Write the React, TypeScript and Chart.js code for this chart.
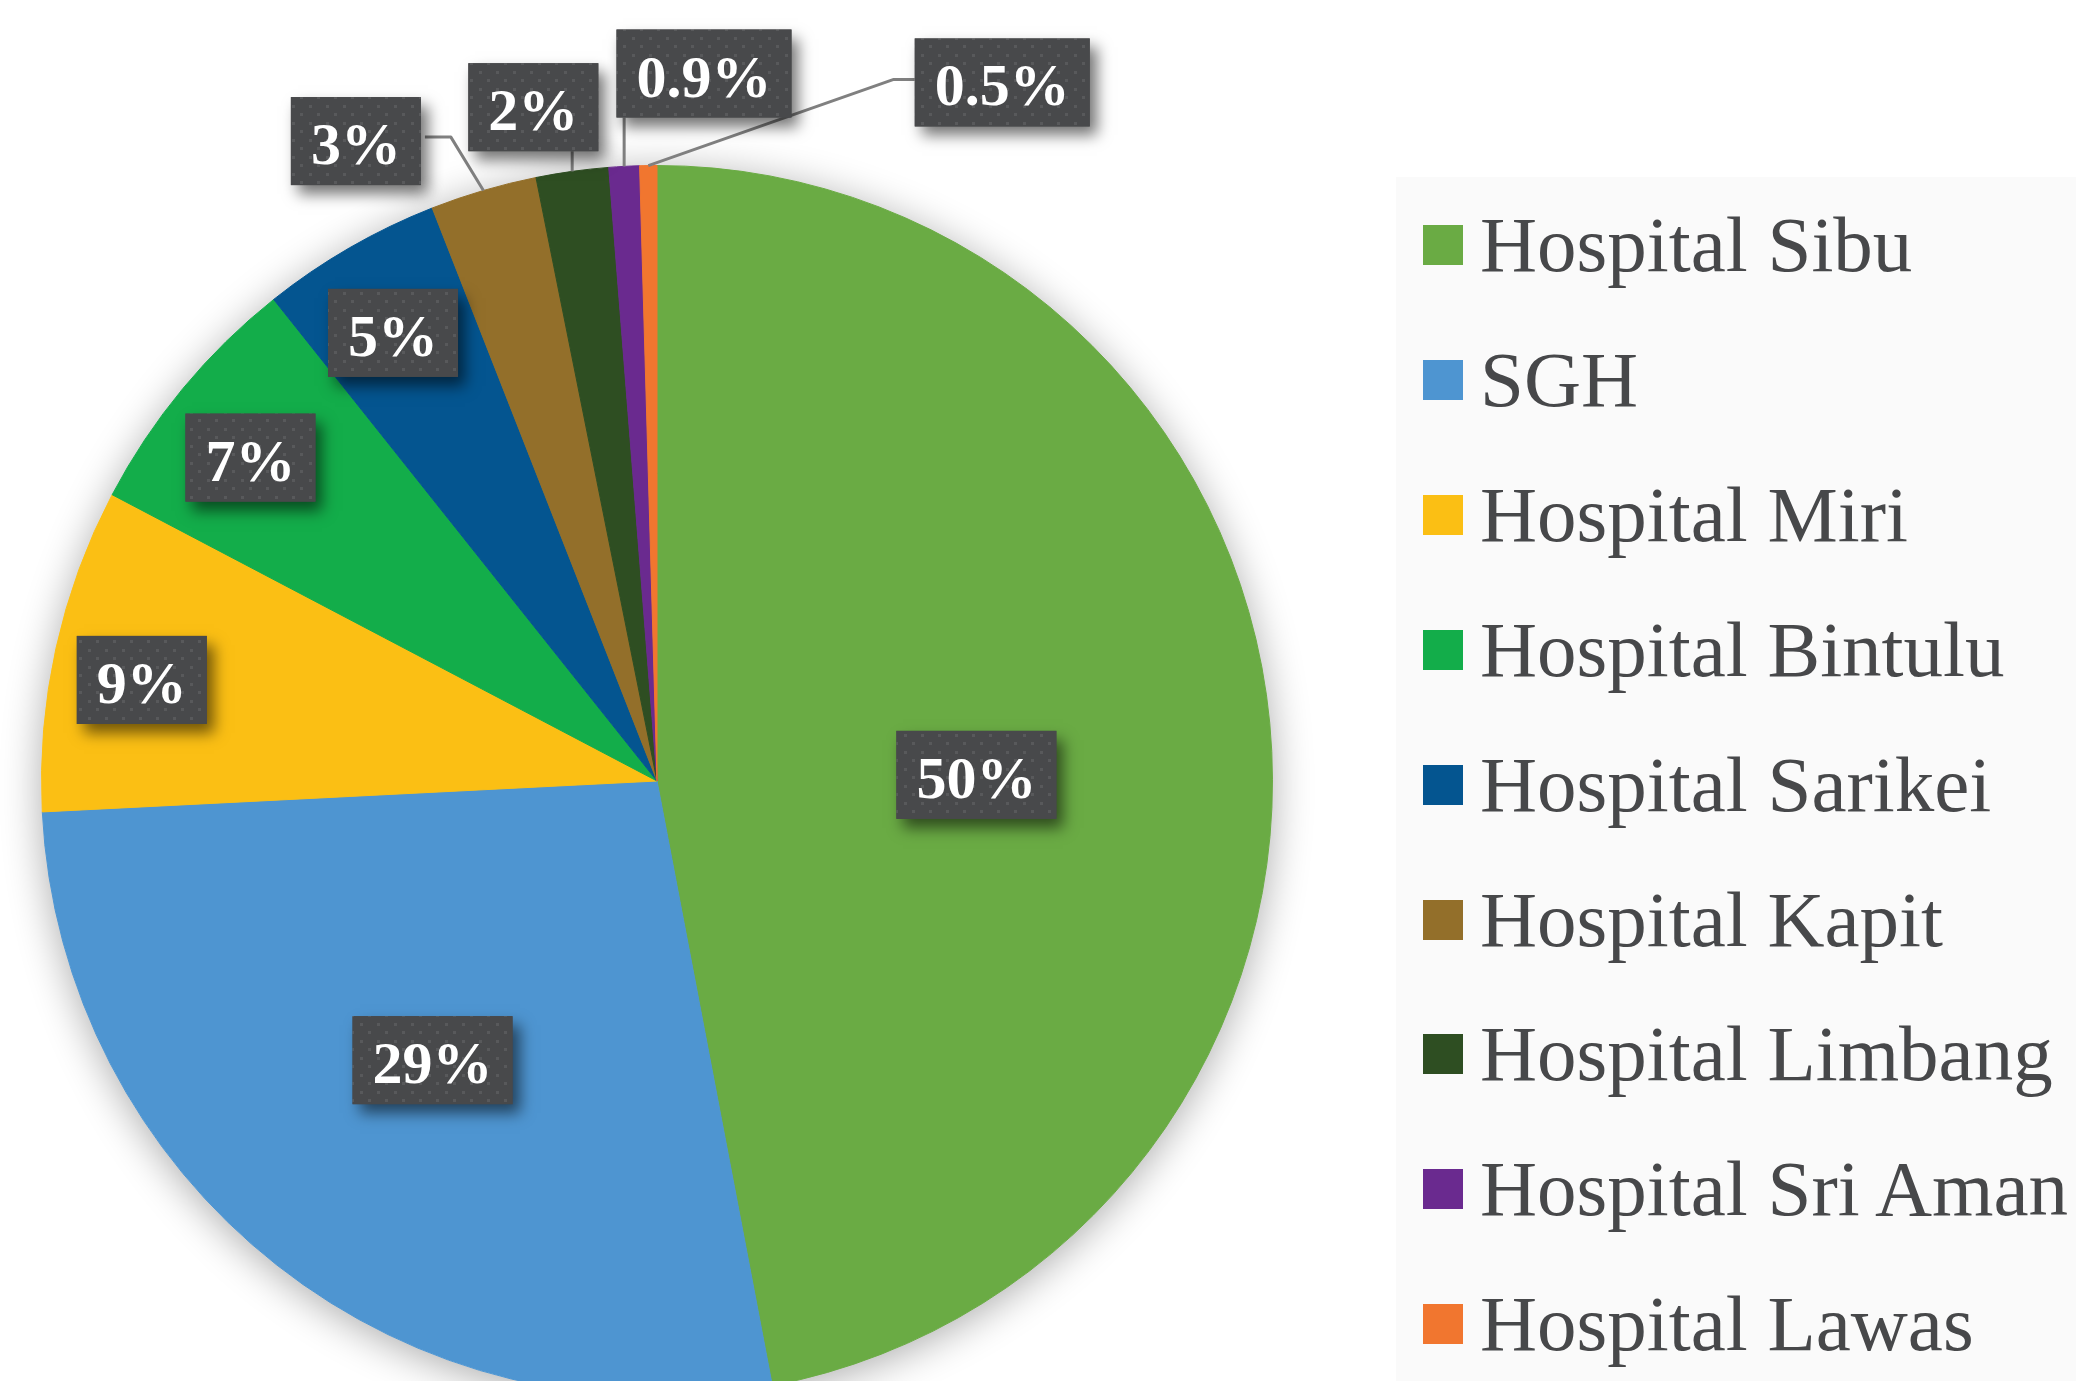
import React, { useEffect, useRef } from "react";
import { Chart, registerables } from "chart.js";

Chart.register(...registerables);

// ---- data ----
const hospitals = [
  "Hospital Sibu",
  "SGH",
  "Hospital Miri",
  "Hospital Bintulu",
  "Hospital Sarikei",
  "Hospital Kapit",
  "Hospital Limbang",
  "Hospital Sri Aman",
  "Hospital Lawas",
];
const shares = [47.0, 27.2, 8.5, 6.6, 4.75, 2.8, 1.9, 0.8, 0.45];
const labelTexts = ["50%", "29%", "9%", "7%", "5%", "3%", "2%", "0.9%", "0.5%"];

// ---- styles / placement ----
const colors = [
  "#6AAB44",
  "#4E95D1",
  "#FBBF14",
  "#13AD4A",
  "#045590",
  "#936F2A",
  "#2E4E22",
  "#6A2A8F",
  "#F1762F",
];
// label placement: angle (deg, clockwise from 12 o'clock) and radius as fraction of pie radius
const labelAngles = [88.9, 218.8, 281.1, 308.5, 329.5, 334.8, 349.6, 3.8, 26.3];
const labelRadii = [0.519, 0.582, 0.853, 0.844, 0.845, 1.149, 1.113, 1.152, 1.266];

const FONT = '"Liberation Serif", "Times New Roman", serif';

function makePattern(ctx: CanvasRenderingContext2D) {
  const c = document.createElement("canvas");
  c.width = 17;
  c.height = 17;
  const g = c.getContext("2d")!;
  g.fillStyle = "#48494B";
  g.fillRect(0, 0, 17, 17);
  g.fillStyle = "#58595B";
  g.fillRect(3, 3, 3, 3);
  g.fillRect(11, 11, 3, 3);
  return ctx.createPattern(c, "repeat");
}

const pieShadow = {
  id: "pieShadow",
  beforeDatasetsDraw(chart: any) {
    const arc = chart.getDatasetMeta(0).data[0];
    if (!arc) return;
    const { x, y, outerRadius } = arc.getProps(["x", "y", "outerRadius"], true);
    const ctx = chart.ctx as CanvasRenderingContext2D;
    ctx.save();
    ctx.shadowColor = "rgba(0,0,0,0.33)";
    ctx.shadowBlur = 40;
    ctx.shadowOffsetX = 0;
    ctx.shadowOffsetY = 6;
    ctx.beginPath();
    ctx.arc(x, y, outerRadius, 0, Math.PI * 2);
    ctx.fillStyle = "#ffffff";
    ctx.fill();
    ctx.restore();
  },
};

const boxLabels = {
  id: "boxLabels",
  afterDatasetsDraw(chart: any) {
    const ctx = chart.ctx as CanvasRenderingContext2D;
    const meta = chart.getDatasetMeta(0);
    const pattern = makePattern(ctx);
    ctx.save();
    ctx.font = `bold 60px ${FONT}`;
    const items = meta.data.map((el: any, i: number) => {
      const p = el.getProps(["x", "y", "startAngle", "endAngle", "outerRadius"], true);
      const a = (labelAngles[i] * Math.PI) / 180;
      const r = labelRadii[i] * p.outerRadius;
      const cx = p.x + r * Math.sin(a);
      const cy = p.y - r * Math.cos(a);
      const w = ctx.measureText(labelTexts[i]).width + 40;
      const h = 88;
      const mid = (p.startAngle + p.endAngle) / 2;
      const ex = p.x + p.outerRadius * Math.cos(mid);
      const ey = p.y + p.outerRadius * Math.sin(mid);
      return { i, cx, cy, w, h, ex, ey, outside: labelRadii[i] > 1 };
    });

    // leader lines
    ctx.strokeStyle = "#808080";
    ctx.lineWidth = 3;
    ctx.lineJoin = "round";
    items.forEach((it: any) => {
      if (!it.outside) return;
      const x0 = it.cx - it.w / 2;
      const x1 = it.cx + it.w / 2;
      const y1 = it.cy + it.h / 2;
      ctx.beginPath();
      if (it.ex >= x0 && it.ex <= x1) {
        ctx.moveTo(it.ex, y1);
        ctx.lineTo(it.ex, it.ey);
      } else if (it.ex > x1) {
        const yl = it.cy - 4;
        ctx.moveTo(x1 + 4, yl);
        ctx.lineTo(x1 + 30, yl);
        ctx.lineTo(it.ex, it.ey);
      } else {
        const yl = it.cy - 3;
        ctx.moveTo(x0, yl);
        ctx.lineTo(x0 - 21, yl);
        ctx.lineTo(it.ex, it.ey);
      }
      ctx.stroke();
    });

    // boxes
    items.forEach((it: any) => {
      const x0 = it.cx - it.w / 2;
      const y0 = it.cy - it.h / 2;
      ctx.save();
      ctx.shadowColor = "rgba(0,0,0,0.55)";
      ctx.shadowBlur = 14;
      ctx.shadowOffsetX = 7;
      ctx.shadowOffsetY = 9;
      ctx.fillStyle = "#48494B";
      ctx.fillRect(x0, y0, it.w, it.h);
      ctx.restore();
      if (pattern) {
        ctx.fillStyle = pattern;
        ctx.fillRect(x0, y0, it.w, it.h);
      }
      ctx.fillStyle = "#FFFFFF";
      ctx.textAlign = "center";
      ctx.textBaseline = "alphabetic";
      ctx.fillText(labelTexts[it.i], it.cx, it.cy + 23);
    });
    ctx.restore();
  },
};

export default function App() {
  const ref = useRef<HTMLCanvasElement | null>(null);
  useEffect(() => {
    if (!ref.current) return;
    const chart = new Chart(ref.current, {
      type: "pie",
      data: {
        labels: hospitals,
        datasets: [
          {
            data: shares,
            backgroundColor: colors,
            borderColor: colors,
            borderWidth: 1,
            hoverOffset: 0,
            clip: false as any,
          } as any,
        ],
      },
      options: {
        responsive: false,
        animation: false,
        devicePixelRatio: 1,
        radius: 615.5,
        layout: { padding: { left: 0, right: 762, top: 181, bottom: 0 } },
        plugins: {
          legend: { display: false },
          tooltip: { enabled: false },
        },
        events: [],
      } as any,
      plugins: [pieShadow, boxLabels],
    });
    return () => chart.destroy();
  }, []);

  const rowPitch = 134.9;
  return (
    <div
      style={{
        position: "fixed",
        left: 0,
        top: 0,
        width: 2076,
        height: 1381,
        overflow: "hidden",
        background: "#FFFFFF",
      }}
    >
      <div
        style={{
          position: "absolute",
          left: 1396,
          top: 177,
          width: 680,
          height: 1204,
          background: "#FAFAFA",
        }}
      />
      <canvas
        ref={ref}
        width={2076}
        height={1381}
        style={{ position: "absolute", left: 0, top: 0, width: 2076, height: 1381 }}
      />
      {hospitals.map((h, i) => (
        <div
          key={h}
          style={{
            position: "absolute",
            left: 1423,
            top: 245 + rowPitch * i - 40,
            height: 80,
            display: "flex",
            alignItems: "center",
            whiteSpace: "nowrap",
          }}
        >
          <div style={{ width: 40, height: 40, background: colors[i], flex: "none" }} />
          <div
            style={{
              marginLeft: 17,
              fontFamily: FONT,
              fontSize: 79,
              lineHeight: "80px",
              color: "#47484A",
            }}
          >
            {h}
          </div>
        </div>
      ))}
    </div>
  );
}
